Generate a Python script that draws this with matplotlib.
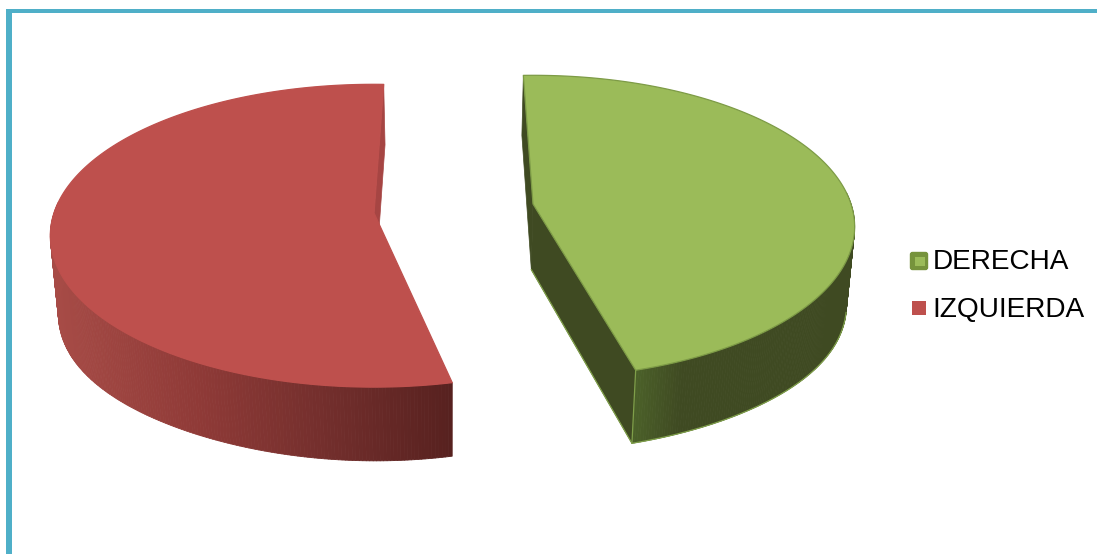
import numpy as np
import matplotlib
matplotlib.use("Agg")
import matplotlib.pyplot as plt
from matplotlib.collections import PolyCollection
from matplotlib.colors import to_rgb
from matplotlib.patches import Polygon, Rectangle, FancyBboxPatch

plt.rcParams["font.family"] = ["Liberation Sans", "DejaVu Sans"]

# Chart data
categories = ["DERECHA", "IZQUIERDA"]
values = [46.1, 53.9]

# Projection of the tilted disc, in figure pixels
RADIUS_Y = 148
PERSPECTIVE = 0.15
VANISH_X = 450
SHRINK = 0.02
THICKNESS = 60
THICKNESS_SLOPE = 0.044
THICKNESS_REF_Y = 75
SIDE_BULGE = 10
START_ANGLE = -2

# Slice styling: exploded centre, radius, angular nudge, colours and rim gradient
styles = {
    "DERECHA": dict(centre=(533, 204), rx=318, nudge=0.0, top="#9bbb59", edge="#7d9b46",
                    rim_edge="#7f9f4a", cut="#3f4a22", sliver="#3f4a22",
                    rim_stops=[(636, "#4b6029"), (680, "#3f4a22"), (860, "#3f4a22")]),
    "IZQUIERDA": dict(centre=(374, 213), rx=320, nudge=4.0, top="#be504d", edge="#be504d",
                      rim_edge=None, cut="#58211f", sliver="#a64543",
                      rim_stops=[(50, "#a84c47"), (200, "#8f3a37"), (330, "#722e2c"), (452, "#57211f")]),
}


def top_face(angle_deg, st):
    """Project points of the disc rim, angles clockwise from the back."""
    a = np.radians(angle_deg)
    u, v = np.sin(a), np.cos(a)
    s = 1.0 / (1.0 + PERSPECTIVE * v)
    cx, cy = st["centre"]
    return np.column_stack((cx + st["rx"] * u * s, cy - RADIUS_Y * v * s))


def lower_face(pts, st):
    """Drop top-face points to the underside of the slab."""
    x, y = pts[:, 0], pts[:, 1]
    lateral = (x - st["centre"][0]) / st["rx"]
    return np.column_stack((x + (VANISH_X - x) * SHRINK,
                            y + THICKNESS + THICKNESS_SLOPE * (y - THICKNESS_REF_Y)
                            + SIDE_BULGE * lateral ** 4))


def rim_colour(x, stops):
    xs = [p for p, _ in stops]
    rgb = np.array([to_rgb(c) for _, c in stops])
    return tuple(np.interp(x, xs, rgb[:, i]) for i in range(3))


fig = plt.figure(figsize=(10.97, 5.54), dpi=100, facecolor="white")
ax = fig.add_axes([0, 0, 1, 1])
ax.set_xlim(0, 1097)
ax.set_ylim(554, 0)
ax.axis("off")

# Chart frame: only the top and left bands fall inside the canvas
frame = "#4fafc8"
ax.add_patch(Rectangle((6.3, 9), 1097, 3.7, color=frame, lw=0))
ax.add_patch(Rectangle((6.3, 9), 5.7, 554, color=frame, lw=0))

angle = START_ANGLE
for name, value in zip(categories, values):
    st = styles[name]
    sweep = value / sum(values) * 360
    start = angle + st["nudge"]
    end = start + sweep
    angle += sweep

    theta = np.linspace(start, end, 361)
    arc = top_face(theta, st)
    arc_low = lower_face(arc, st)
    apex = np.array([st["centre"]], dtype=float)
    apex_low = lower_face(apex, st)
    near_side = np.cos(np.radians(theta)) < 0.08
    outline_side = np.cos(np.radians(theta)) < -0.2

    # Cut face turned away from the viewer, seen as a thin sliver
    back = 0 if name == "DERECHA" else -1
    front = -1 if name == "DERECHA" else 0
    ax.add_patch(Polygon(np.vstack((arc[back], arc_low[back], apex_low, apex)),
                         closed=True, fc=st["sliver"], ec=st["sliver"], lw=0.5, zorder=2))

    # Curved outer wall with a left-to-right gradient, near side only
    quads = [np.array([arc[i], arc[i + 1], arc_low[i + 1], arc_low[i]])
             for i in range(len(arc) - 1) if near_side[i] and near_side[i + 1]]
    colours = [rim_colour(q[:, 0].mean(), st["rim_stops"]) for q in quads]
    ax.add_collection(PolyCollection(quads, facecolors=colours, edgecolors=colours,
                                     linewidths=0.6, zorder=3))

    # Cut face turned towards the viewer
    if name == "DERECHA":
        ax.add_patch(Polygon(np.vstack((apex, arc[front], arc_low[front], apex_low)),
                             closed=True, fc=st["cut"], ec=st["cut"], lw=0.5, zorder=4))
        ax.plot(*np.vstack((arc_low[outline_side], apex_low)).T, color=st["rim_edge"], lw=0.9, zorder=4.5)
        ax.plot(*np.vstack((arc[front], arc_low[front])).T, color=st["rim_edge"], lw=0.9, zorder=4.5)

    # Flat top of the slice
    ax.add_patch(Polygon(np.vstack((apex, arc)), closed=True, fc=st["top"],
                         ec=st["edge"], lw=0.9, joinstyle="round", zorder=5))

# Legend
ax.add_patch(FancyBboxPatch((910.5, 252.5), 17, 17, boxstyle="round,pad=0,rounding_size=2",
                            fc="#76933c", ec="#76933c", lw=1, zorder=6))
ax.add_patch(Rectangle((915, 256.5), 9.5, 9.5, fc=styles["DERECHA"]["top"], lw=0, zorder=7))
ax.add_patch(Rectangle((912, 301), 14, 14, fc=styles["IZQUIERDA"]["top"], lw=0, zorder=6))
for label, baseline in zip(categories, (269, 317)):
    ax.text(932.5, baseline, label, fontsize=20.15, color="#000000", va="baseline", ha="left")

fig.savefig("out.png", dpi=100, facecolor="white")
